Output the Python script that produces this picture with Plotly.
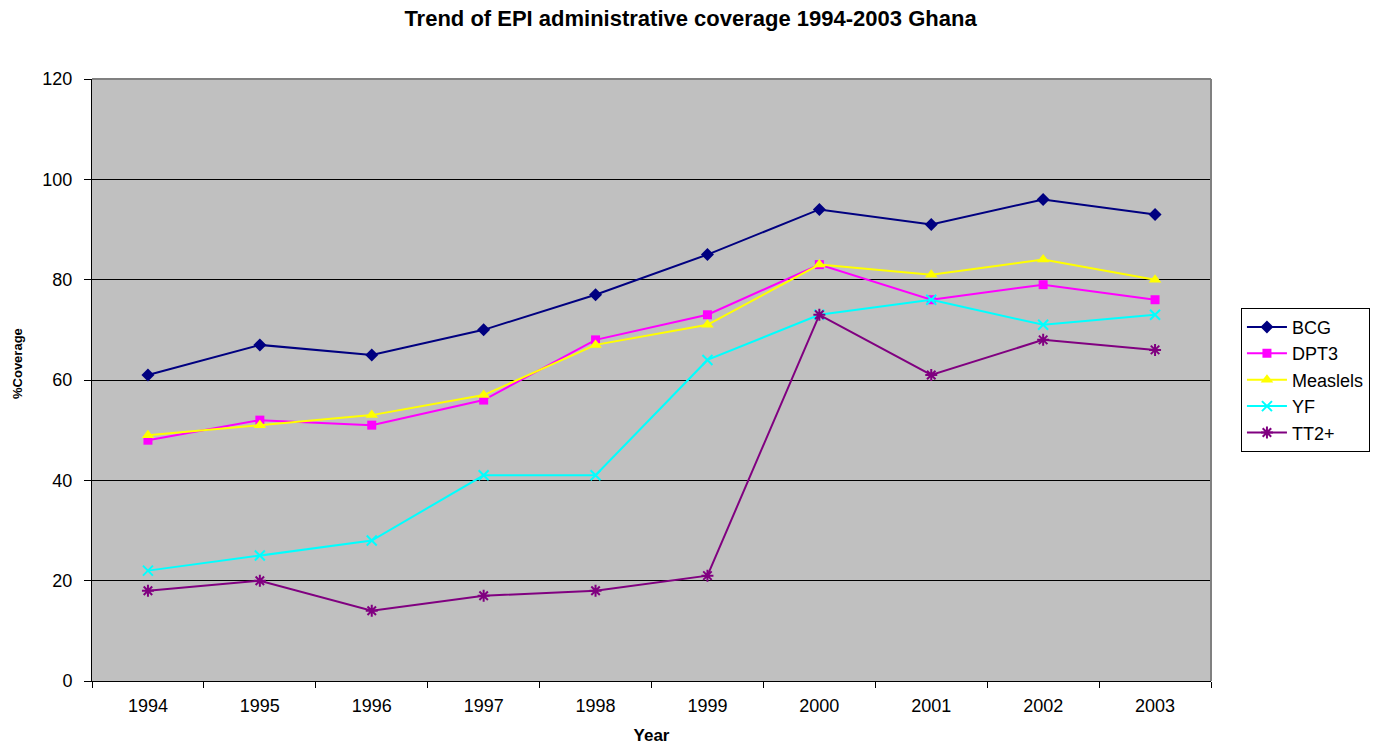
import plotly.graph_objects as go

years = ["1994", "1995", "1996", "1997", "1998", "1999", "2000", "2001", "2002", "2003"]
bcg = [61, 67, 65, 70, 77, 85, 94, 91, 96, 93]
dpt3 = [48, 52, 51, 56, 68, 73, 83, 76, 79, 76]
measles = [49, 51, 53, 57, 67, 71, 83, 81, 84, 80]
yf = [22, 25, 28, 41, 41, 64, 73, 76, 71, 73]
tt2 = [18, 20, 14, 17, 18, 21, 73, 61, 68, 66]
y_ticks = [0, 20, 40, 60, 80, 100, 120]

series = [
    ("BCG", bcg, "#000080", "diamond", 10, None),
    ("DPT3", dpt3, "#FF00FF", "square", 9, None),
    ("Measlels", measles, "#FFFF00", "triangle-up", 11, None),
    ("YF", yf, "#00FFFF", "x-thin-open", 10, 2),
    ("TT2+", tt2, "#800080", "asterisk-open", 10, 2),
]

fig = go.Figure()
for name, vals, color, sym, size, lw in series:
    marker = dict(symbol=sym, size=size, color=color)
    if lw:
        marker["line"] = dict(color=color, width=lw)
    else:
        marker["line"] = dict(width=0)
    fig.add_trace(go.Scatter(
        x=years, y=vals, name=name, mode="lines+markers",
        line=dict(color=color, width=2), marker=marker,
    ))

fig.update_layout(
    width=1381, height=746,
    margin=dict(l=92, r=170, t=79, b=65, autoexpand=False),
    paper_bgcolor="white",
    plot_bgcolor="#C0C0C0",
    font=dict(family="Liberation Sans, Arial, sans-serif", size=18, color="black"),
    title=dict(
        text="<b>Trend of EPI administrative coverage 1994-2003 Ghana</b>",
        x=0.5, xanchor="center", xref="container", y=0.975, yanchor="middle",
        font=dict(size=22),
    ),
    legend=dict(
        x=0.992, xref="container", xanchor="right",
        y=0.491, yref="container", yanchor="middle",
        bgcolor="white", bordercolor="black", borderwidth=1,
        font=dict(size=18), tracegroupgap=0, itemwidth=40,
    ),
    showlegend=True,
)

fig.update_xaxes(
    type="category", range=[-0.5, 9.5], tickson="boundaries",
    ticks="outside", ticklen=6, tickcolor="black", ticklabelstandoff=8,
    showline=True, linecolor="black", linewidth=1, automargin=False,
    showgrid=False, zeroline=False, mirror=False,
    title=dict(text="<b>Year</b>", font=dict(size=17), standoff=14),
)
fig.update_yaxes(
    range=[0, 120], tickvals=y_ticks, ticks="outside", ticklen=7,
    tickcolor="black", ticklabelstandoff=8, automargin=False,
    showline=True, linecolor="black", linewidth=1,
    showgrid=True, gridcolor="black", gridwidth=1, zeroline=False,
)

# rotated y-axis caption placed left of the tick labels
fig.add_annotation(
    text="<b>%Coverage</b>", textangle=-90, showarrow=False,
    xref="paper", x=-75 / 1119, xanchor="center",
    yref="paper", y=(681 - 364) / 602, yanchor="middle",
    font=dict(size=13),
)

# gray frame along the top and right edges of the plot area
fig.add_shape(type="line", xref="paper", yref="paper", x0=0, x1=1, y0=1, y1=1,
              line=dict(color="#808080", width=2))
fig.add_shape(type="line", xref="paper", yref="paper", x0=1, x1=1, y0=0, y1=1,
              line=dict(color="#808080", width=2))

fig.write_html("out.html")
